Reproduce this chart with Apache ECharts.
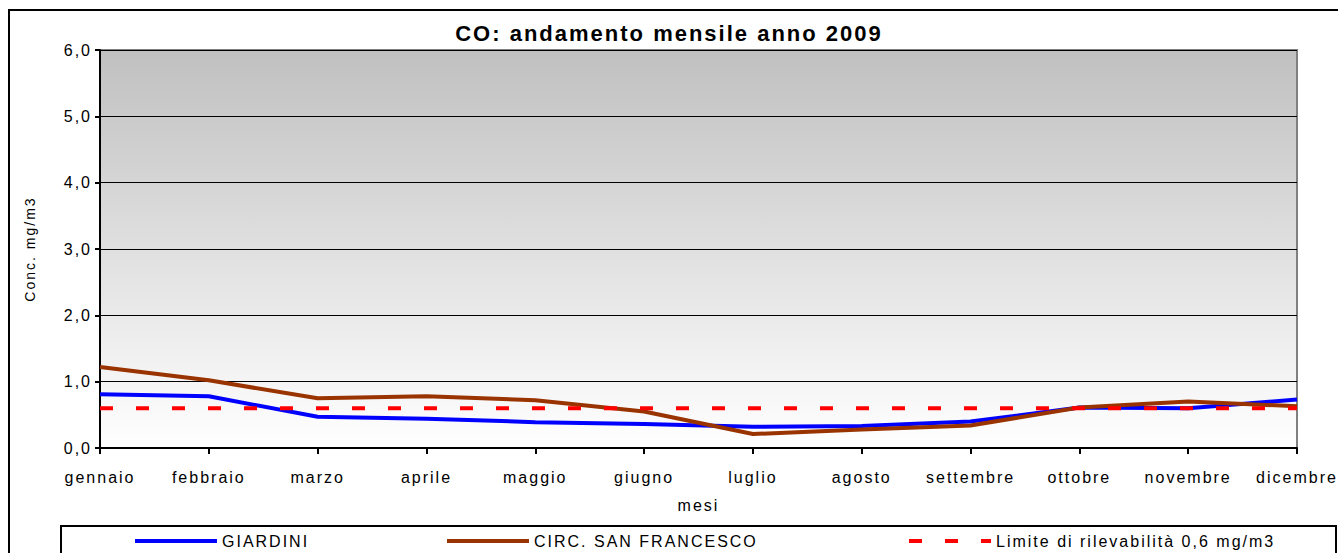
<!DOCTYPE html>
<html lang="it">
<head>
<meta charset="utf-8">
<title>CO: andamento mensile anno 2009</title>
<style>
  html, body { margin: 0; padding: 0; background: #fff; }
  #chart { width: 1338px; height: 553px; }
  /* il grafico originale ha il testo un po' spaziato */
  #chart text { letter-spacing: 2px; }
</style>
</head>
<body>
<div id="chart"></div>
<script src="https://cdn.jsdelivr.net/npm/echarts@6/dist/echarts.min.js"></script>
<script>
// dati
var mesi = ['gennaio', 'febbraio', 'marzo', 'aprile', 'maggio', 'giugno',
            'luglio', 'agosto', 'settembre', 'ottobre', 'novembre', 'dicembre'];
var giardini = [0.81, 0.78, 0.47, 0.44, 0.39, 0.36, 0.32, 0.33, 0.40, 0.61, 0.60, 0.73];
var sanFrancesco = [1.22, 1.02, 0.75, 0.78, 0.72, 0.55, 0.21, 0.28, 0.34, 0.61, 0.70, 0.63];
var limite = [0.6, 0.6, 0.6, 0.6, 0.6, 0.6, 0.6, 0.6, 0.6, 0.6, 0.6, 0.6];
var yTicks = [0, 1, 2, 3, 4, 5, 6];
var nomi = ['GIARDINI', 'CIRC. SAN FRANCESCO', 'Limite di rilevabilità 0,6 mg/m3'];

var font = 'Arial, "Liberation Sans", sans-serif';
var chart = echarts.init(document.getElementById('chart'), null, { renderer: 'svg' });

function legenda(nome, x) {
  return {
    left: x,
    top: 533,
    padding: 0,
    itemWidth: 82,
    itemHeight: 14,
    itemGap: 0,
    itemStyle: { opacity: 0 },
    lineStyle: { width: 'inherit' },
    textStyle: { fontSize: 16, color: '#000', fontFamily: font },
    data: [nome]
  };
}

chart.setOption({
  animation: false,
  textStyle: { fontFamily: font, color: '#000' },
  title: {
    text: 'CO: andamento mensile anno 2009',
    left: 'center',
    top: 17,
    textStyle: { fontSize: 22, fontWeight: 'bold', color: '#000', fontFamily: font }
  },
  grid: {
    left: 100, right: 41, top: 50, bottom: 105,
    show: true,
    borderColor: '#808080',
    borderWidth: 2,
    backgroundColor: new echarts.graphic.LinearGradient(0, 0, 0, 1, [
      { offset: 0, color: '#c0c0c0' },
      { offset: 1, color: '#ffffff' }
    ])
  },
  xAxis: {
    type: 'category',
    data: mesi,
    boundaryGap: false,
    name: 'mesi',
    nameLocation: 'middle',
    nameGap: 49,
    nameTextStyle: { fontSize: 16, color: '#000' },
    axisLine: { lineStyle: { color: '#000', width: 2 } },
    axisTick: { alignWithLabel: true, length: 6, lineStyle: { color: '#000', width: 2 } },
    axisLabel: { fontSize: 16, color: '#000', margin: 21, interval: 0 }
  },
  yAxis: {
    type: 'value',
    min: yTicks[0],
    max: yTicks[yTicks.length - 1],
    interval: 1,
    name: 'Conc. mg/m3',
    nameLocation: 'middle',
    nameGap: 63,
    nameTextStyle: { fontSize: 14, color: '#000' },
    axisLine: { show: true, lineStyle: { color: '#000', width: 2 } },
    axisTick: { show: true, length: 5, lineStyle: { color: '#000', width: 2 } },
    axisLabel: {
      fontSize: 16, color: '#000', margin: 8,
      formatter: function (v) { return v.toFixed(1).replace('.', ','); }
    },
    splitLine: { lineStyle: { color: '#000', width: 1 } }
  },
  legend: [legenda(nomi[0], 133), legenda(nomi[1], 445), legenda(nomi[2], 907)],
  graphic: [
    {
      // cornice esterna
      type: 'rect', silent: true, z: 100,
      shape: { x: 9, y: 10, width: 1345, height: 560 },
      style: { fill: 'none', stroke: '#000', lineWidth: 2 }
    },
    {
      // riquadro legenda
      type: 'rect', silent: true, z: 100,
      shape: { x: 61, y: 526, width: 1275, height: 60 },
      style: { fill: 'none', stroke: '#000', lineWidth: 2 }
    }
  ],
  series: [
    {
      name: nomi[0], type: 'line', data: giardini,
      symbol: 'none', lineStyle: { color: '#0000ff', width: 4 },
      itemStyle: { color: '#0000ff' }
    },
    {
      name: nomi[1], type: 'line', data: sanFrancesco,
      symbol: 'none', lineStyle: { color: '#993300', width: 4 },
      itemStyle: { color: '#993300' }
    },
    {
      name: nomi[2], type: 'line', data: limite,
      symbol: 'none',
      lineStyle: { color: '#ff0000', width: 4, type: [13, 23], cap: 'butt' },
      itemStyle: { color: '#ff0000' }
    }
  ]
});
</script>
</body>
</html>
